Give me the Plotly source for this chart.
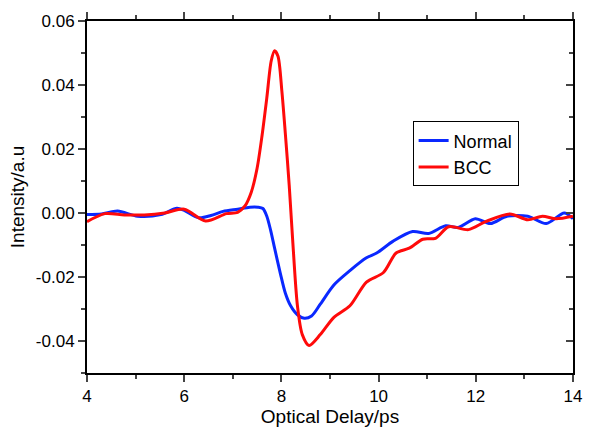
import plotly.graph_objects as go

# Normal (blue)
normal_x = [4.0, 4.3, 4.63, 5.04, 5.52, 5.85, 6.0, 6.3, 6.55, 6.8, 7.1, 7.35, 7.52, 7.62, 7.7, 7.78, 7.86, 7.98, 8.08, 8.19,
            8.33, 8.47, 8.62, 8.8, 9.08, 9.41, 9.75, 9.96, 10.3, 10.7, 11.03, 11.38, 11.64, 11.99, 12.3, 12.64, 13.07,
            13.45, 13.82, 14.0]
normal_y = [-0.0005, -0.0003, 0.0006, -0.001, -0.0005, 0.0015, 0.0008, -0.0015, -0.0008, 0.0005, 0.0012, 0.0018, 0.0018,
            0.0014, -0.001, -0.0055, -0.011, -0.019, -0.025, -0.029,
            -0.0318, -0.0329, -0.0322, -0.0285, -0.0225, -0.018, -0.014, -0.0125, -0.0088, -0.0058, -0.0064, -0.004,
            -0.0045, -0.0018, -0.0033, -0.001, -0.001, -0.0033, 0.0, -0.0018]

# BCC (red)
bcc_x = [4.0, 4.37, 4.77, 5.18, 5.6, 6.0, 6.44, 6.87, 7.1, 7.25, 7.38, 7.5, 7.6, 7.7, 7.79, 7.86, 7.93, 8.01, 8.08,
         8.16, 8.23, 8.33, 8.43, 8.57, 8.8, 9.08, 9.41, 9.75, 10.1, 10.36, 10.63, 10.91, 11.17, 11.44, 11.85, 12.2,
         12.7, 13.07, 13.37, 13.65, 14.0]
bcc_y = [-0.0027, -0.0002, -0.0006, -0.0006, 0.0, 0.0012, -0.0025, -0.0002, 0.0002, 0.0022, 0.0065, 0.014, 0.024,
         0.036, 0.0475, 0.0507, 0.049, 0.038, 0.025, 0.0088, -0.008,
         -0.029, -0.038, -0.0414, -0.038, -0.0326, -0.029, -0.0216, -0.0186, -0.0125, -0.011, -0.0082, -0.0079,
         -0.0043, -0.0052, -0.0027, -0.0003, -0.0021, -0.001, -0.0018, -0.001]

x_ticks = [4, 6, 8, 10, 12, 14]
y_ticks = [-0.04, -0.02, 0.00, 0.02, 0.04, 0.06]
y_ticklabels = ["-0.04", "-0.02", "0.00", "0.02", "0.04", "0.06"]

fig = go.Figure()
fig.add_trace(go.Scatter(x=normal_x, y=normal_y, mode="lines", name="Normal",
                         line=dict(color="#0a28ff", width=3, shape="spline", smoothing=0.8)))
fig.add_trace(go.Scatter(x=bcc_x, y=bcc_y, mode="lines", name="BCC",
                         line=dict(color="#ff0a0a", width=3, shape="spline", smoothing=0.8)))
fig.add_trace(go.Scatter(x=[None], y=[None], yaxis="y2", showlegend=False, hoverinfo="skip"))

font_family = "Liberation Sans, Arial, sans-serif"

fig.update_layout(
    width=594, height=432,
    margin=dict(l=87, r=15, t=19, b=52),
    plot_bgcolor="white", paper_bgcolor="white",
    font=dict(family=font_family, size=17, color="black"),
    showlegend=True,
    legend=dict(x=0.67, y=0.715, xanchor="left", yanchor="top",
                bgcolor="white", bordercolor="black", borderwidth=1,
                font=dict(size=18), tracegroupgap=0, itemwidth=30),
    xaxis=dict(range=[4, 14], tickvals=x_ticks, ticks="outside", ticklen=7, tickwidth=2,
               showline=True, linewidth=2, linecolor="black", mirror="ticks",
               showgrid=False, zeroline=False,
               minor=dict(dtick=1, tick0=4, ticks="outside", ticklen=4, tickwidth=2),
               title=dict(text="Optical Delay/ps", font=dict(size=19), standoff=0),
               tickfont=dict(size=17)),
    yaxis=dict(range=[-0.05, 0.06], tickvals=y_ticks, ticktext=y_ticklabels, ticks="outside",
               ticklen=7, tickwidth=2,
               showline=True, linewidth=2, linecolor="black", mirror=True,
               showgrid=False, zeroline=False,
               minor=dict(dtick=0.01, tick0=0, ticks="outside", ticklen=4, tickwidth=2),
               title=dict(text="Intensity/a.u", font=dict(size=19), standoff=6),
               tickfont=dict(size=17)),
    yaxis2=dict(range=[-0.05, 0.06], overlaying="y", side="right", tickvals=y_ticks,
                showticklabels=False, ticks="inside", ticklen=7, tickwidth=2,
                showline=False, showgrid=False, zeroline=False,
                minor=dict(dtick=0.01, tick0=0, ticks="inside", ticklen=4, tickwidth=2)),
)

fig.write_html("out.html")
